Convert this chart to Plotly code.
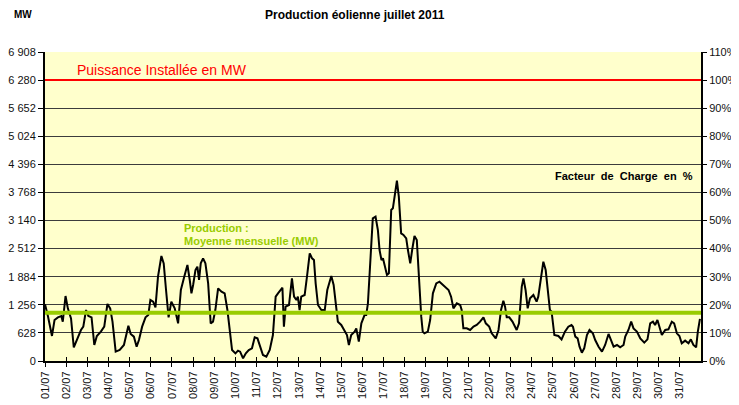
"""
Production éolienne juillet 2011 - courbe de production et facteur de charge
"""
from datetime import datetime, timedelta
import plotly.graph_objects as go

# Données
puissance_installee = 6280      # MW
moyenne_mensuelle = 1080        # MW
y_max = 6908

jour = [
    0.00, 0.14, 0.33, 0.45, 0.61, 0.77, 0.84, 0.97, 1.08, 1.23, 1.36, 1.55, 1.70, 1.81, 1.94,
    2.05, 2.20, 2.33, 2.45, 2.64, 2.80, 2.95, 3.08, 3.19, 3.34, 3.53, 3.73, 3.94, 4.05, 4.20,
    4.33, 4.44, 4.59, 4.75, 4.88, 4.98, 5.11, 5.22, 5.34, 5.50, 5.61, 5.72, 5.84, 5.97, 6.13,
    6.29, 6.42, 6.58, 6.73, 6.84, 6.92, 7.00, 7.11, 7.20, 7.28, 7.36, 7.47, 7.58, 7.71, 7.83,
    7.94, 8.05, 8.18, 8.34, 8.49, 8.62, 8.73, 8.84, 9.00, 9.12, 9.22, 9.36, 9.49, 9.63, 9.78,
    9.91, 10.04, 10.15, 10.30, 10.46, 10.62, 10.77, 10.90, 11.01, 11.12, 11.22, 11.29, 11.37,
    11.53, 11.67, 11.77, 11.88, 11.95, 12.03, 12.11, 12.27, 12.38, 12.51, 12.62, 12.71, 12.79,
    12.90, 13.06, 13.22, 13.34, 13.45, 13.53, 13.64, 13.77, 13.84, 14.00, 14.16, 14.27, 14.36,
    14.47, 14.63, 14.71, 14.83, 14.95, 15.10, 15.18, 15.26, 15.37, 15.49, 15.62, 15.73, 15.81,
    15.90, 15.97, 16.05, 16.16, 16.25, 16.36, 16.44, 16.52, 16.63, 16.72, 16.83, 16.94, 17.07,
    17.15, 17.26, 17.35, 17.46, 17.57, 17.66, 17.78, 17.85, 17.93, 18.09, 18.20, 18.33, 18.49,
    18.64, 18.80, 18.96, 19.07, 19.19, 19.30, 19.46, 19.62, 19.69, 19.77, 19.93, 20.09, 20.25,
    20.40, 20.56, 20.72, 20.83, 20.99, 21.11, 21.30, 21.43, 21.55, 21.66, 21.74, 21.82, 21.94,
    22.09, 22.29, 22.40, 22.53, 22.61, 22.71, 22.81, 22.92, 23.08, 23.23, 23.31, 23.44, 23.55,
    23.66, 23.78, 23.86, 23.94, 24.07, 24.26, 24.41, 24.57, 24.73, 24.88, 24.95, 25.06, 25.17,
    25.26, 25.37, 25.48, 25.61, 25.73, 25.89, 26.00, 26.16, 26.32, 26.47, 26.63, 26.74, 26.87,
    27.03, 27.18, 27.34, 27.42, 27.57, 27.70, 27.81, 27.97, 28.13, 28.32, 28.47, 28.60, 28.73,
    28.83, 28.94, 29.07, 29.15, 29.31, 29.46, 29.62, 29.73, 29.86, 29.98, 30.09, 30.25, 30.41,
    30.52, 30.64, 30.77, 30.85, 30.91, 30.95,
]

production_mw = [
    1270, 1000, 560, 917, 976, 1006, 880, 1453, 1177, 954, 305, 507, 693, 768, 1140,
    1006, 976, 358, 559, 656, 768, 1274, 1177, 880, 209, 246, 358, 790, 604, 544,
    320, 469, 768, 976, 1028, 1364, 1326, 1200, 1885, 2347, 2183, 1587, 976, 1326, 1177,
    842, 1587, 1885, 2146, 1811, 1513, 1699, 2034, 2109, 1811, 2183, 2295, 2183, 1736, 842,
    880, 1140, 1624, 1550, 1513, 1140, 693, 246, 171, 231, 209, 60, 171, 246, 283,
    529, 507, 358, 134, 97, 246, 581, 1438, 1513, 1587, 1639, 768, 1215,
    1252, 1848, 1438, 1364, 1438, 1140, 1438, 1475, 1885, 2407, 2295, 2258, 1736,
    1252, 1140, 1140, 1587, 1811, 1900, 1699, 1215, 879, 805, 656, 581, 358,
    581, 656, 730, 432, 842, 1028, 1028, 1289, 2258, 3189, 3227, 2929, 2481,
    2258, 2295, 2146, 1923, 1960, 3376, 3413, 3674, 4030, 3674, 2854, 2817, 2742,
    2481, 2183, 2481, 2795, 2705, 1885, 991, 656, 618, 656, 917, 1513, 1736,
    1773, 1699, 1624, 1587, 1438, 1177, 1289, 1252, 1140, 730, 730, 693, 768,
    805, 879, 976, 842, 768, 618, 507, 693, 1140, 1349, 1215, 976, 976,
    880, 693, 842, 1662, 1848, 1587, 1177, 1401, 1476, 1326, 1438, 1885, 2221,
    2034, 1438, 1140, 1103, 581, 559, 484, 656, 768, 805, 768, 544, 507,
    320, 186, 283, 581, 693, 618, 469, 320, 209, 358, 604, 484, 320,
    358, 305, 358, 544, 693, 879, 730, 656, 507, 410, 484, 842, 879,
    805, 917, 730, 581, 693, 708, 879, 842, 618, 559, 395, 455, 395,
    484, 358, 305, 656, 879, 940,
]

jours_labels = [
    '01/07', '02/07', '03/07', '04/07', '05/07', '06/07', '07/07', '08/07', '09/07', '10/07',
    '11/07', '12/07', '13/07', '14/07', '15/07', '16/07', '17/07', '18/07', '19/07', '20/07',
    '21/07', '22/07', '23/07', '24/07', '25/07', '26/07', '27/07', '28/07', '29/07', '30/07',
    '31/07',
]

mw_ticks = [0, 628, 1256, 1884, 2512, 3140, 3768, 4396, 5024, 5652, 6280, 6908]
mw_labels = ['0', '628', '1 256', '1 884', '2 512', '3 140', '3 768', '4 396',
             '5 024', '5 652', '6 280', '6 908']
pct_ticks = [0, 10, 20, 30, 40, 50, 60, 70, 80, 90, 100, 110]
pct_labels = ['0%', '10%', '20%', '30%', '40%', '50%', '60%', '70%', '80%', '90%', '100%', '110%']

# Préparation
debut = datetime(2011, 7, 1)
fin = debut + timedelta(days=31)
x = [debut + timedelta(days=d) for d in jour]
facteur = [p / puissance_installee * 100 for p in production_mw]
tick_dates = [debut + timedelta(days=i) for i in range(len(jours_labels) + 1)]

police = "Arial, 'Liberation Sans', sans-serif"

fig = go.Figure()
# facteur de charge (invisible, porte l'axe de droite et les graduations internes)
fig.add_trace(go.Scatter(x=x, y=facteur, xaxis='x2', yaxis='y2', mode='lines',
                         line=dict(width=0, color='rgba(0,0,0,0)'),
                         hoverinfo='skip', showlegend=False))
fig.add_trace(go.Scatter(x=x, y=production_mw, mode='lines', name='Production',
                         line=dict(color='black', width=2), showlegend=False))
fig.add_trace(go.Scatter(x=[debut, fin], y=[moyenne_mensuelle] * 2, mode='lines',
                         line=dict(color='#99CC00', width=4), showlegend=False))
fig.add_trace(go.Scatter(x=[debut, fin], y=[puissance_installee] * 2, mode='lines',
                         line=dict(color='#FF0000', width=2), showlegend=False))

# la page est décalée de 8 px (marge du body) : marges compensées
fig.update_layout(
    width=739, height=405,
    margin=dict(l=37, r=46, t=44, b=52),
    paper_bgcolor='white',
    plot_bgcolor='#FFFFCC',
    font=dict(family=police, size=11, color='#111111'),
    showlegend=False,
    xaxis=dict(
        type='date', range=[debut, fin], automargin=False,
        tickmode='array', tickvals=tick_dates[:-1], ticktext=jours_labels,
        tickangle=-90, tickfont=dict(size=11),
        showgrid=False, zeroline=False,
        showline=True, linecolor='black', linewidth=2,
        ticks='outside', ticklen=4, tickcolor='black', tickwidth=1,
    ),
    xaxis2=dict(
        type='date', range=[debut, fin], automargin=False,
        overlaying='x', anchor='y2', side='bottom',
        tickmode='array', tickvals=tick_dates, showticklabels=False,
        showgrid=False, zeroline=False, showline=False,
        ticks='inside', ticklen=4, tickcolor='black', tickwidth=1,
    ),
    yaxis=dict(
        range=[0, y_max], automargin=False,
        tickmode='array', tickvals=mw_ticks, ticktext=mw_labels,
        showgrid=True, gridcolor='#3c3c3c', gridwidth=1, zeroline=False,
        showline=True, linecolor='black', linewidth=2,
        ticks='outside', ticklen=5, tickcolor='black', tickwidth=1,
        tickfont=dict(size=11),
    ),
    yaxis2=dict(
        overlaying='y', side='right', range=[0, 110], automargin=False,
        tickmode='array', tickvals=pct_ticks, ticktext=pct_labels,
        showgrid=False, zeroline=False,
        showline=True, linecolor='black', linewidth=2,
        ticks='outside', ticklen=4, tickcolor='black', tickwidth=1,
        tickfont=dict(size=11),
    ),
)

# positions des textes en coordonnées de la zone de tracé (45..701 px, 52..361 px)
def px(xp):
    return (xp - 45) / 656


def py(yp):
    return (361 - yp) / 309


annotations = [
    dict(text='<b>Production éolienne juillet 2011</b>', x=px(355), y=py(15),
         xanchor='center', yanchor='middle', font=dict(size=12, color='black')),
    dict(text='<b>MW</b>', x=px(12), y=py(15),
         xanchor='left', yanchor='middle', font=dict(size=10, color='black')),
    dict(text='Puissance Installée en MW', x=px(75), y=py(70),
         xanchor='left', yanchor='middle', font=dict(size=14, color='#FF0000')),
    dict(text='<b>Production :</b>', x=px(182), y=py(228),
         xanchor='left', yanchor='middle', font=dict(size=11, color='#99CC00')),
    dict(text='<b>Moyenne mensuelle (MW)</b>', x=px(182), y=py(241),
         xanchor='left', yanchor='middle', font=dict(size=11, color='#99CC00')),
    dict(text='<b>Facteur&nbsp; de&nbsp; Charge&nbsp; en&nbsp; %</b>', x=px(553), y=py(176),
         xanchor='left', yanchor='middle', font=dict(size=11, color='black')),
]
for a in annotations:
    a.update(showarrow=False, xref='paper', yref='paper')
fig.update_layout(annotations=annotations)

fig.write_html("out.html")
